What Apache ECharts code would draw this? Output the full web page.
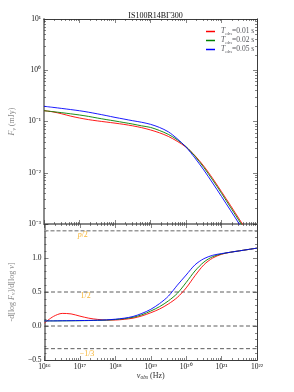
<!DOCTYPE html>
<html><head><meta charset="utf-8">
<script src="https://cdn.jsdelivr.net/npm/echarts@6/dist/echarts.min.js"></script>
<style>html,body{margin:0;padding:0;background:#fff}#c{width:294px;height:392px}</style>
</head><body><div id="c"></div>
<script>
// log10 of observed frequency (Hz)
const logNu = [16,16.25,16.5,16.75,17,17.25,17.5,17.75,18,18.25,18.5,18.75,19,19.25,19.5,19.75,20,20.25,20.5,20.75,21,21.25,21.5,21.75,22];
// log10 of flux density F_nu (mJy)
const logF_001 = [-0.789,-0.812,-0.85,-0.895,-0.932,-0.963,-0.988,-1.01,-1.032,-1.056,-1.085,-1.12,-1.165,-1.22,-1.29,-1.385,-1.50,-1.665,-1.87,-2.11,-2.37,-2.635,-2.905,-3.18,-3.46];
const logF_002 = [-0.789,-0.808,-0.828,-0.85,-0.873,-0.9,-0.932,-0.962,-0.99,-1.02,-1.05,-1.085,-1.115,-1.175,-1.25,-1.355,-1.49,-1.675,-1.895,-2.14,-2.40,-2.67,-2.94,-3.22,-3.505];
const logF_005 = [-0.703,-0.724,-0.745,-0.767,-0.79,-0.818,-0.85,-0.884,-0.92,-0.952,-0.985,-1.015,-1.055,-1.115,-1.2,-1.335,-1.50,-1.71,-1.945,-2.20,-2.463,-2.73,-3.0,-3.28,-3.565];
// spectral slope -dlogF/dlognu
const slope_001 = [0.045,0.14,0.185,0.178,0.145,0.115,0.097,0.087,0.088,0.098,0.115,0.148,0.195,0.25,0.325,0.42,0.56,0.74,0.9,1.0,1.055,1.085,1.105,1.125,1.145];
const slope_002 = [0.075,0.075,0.076,0.077,0.078,0.08,0.083,0.087,0.095,0.108,0.128,0.165,0.22,0.285,0.37,0.48,0.64,0.81,0.94,1.02,1.06,1.085,1.105,1.125,1.145];
const slope_005 = [0.075,0.075,0.077,0.078,0.08,0.082,0.085,0.09,0.1,0.115,0.14,0.185,0.245,0.33,0.44,0.6,0.75,0.9,0.99,1.04,1.065,1.085,1.105,1.125,1.145];
const durations = ['0.01','0.02','0.05'];
const colors = ['#ff0000','#008000','#0000ff'];
const refLevels = [1.4, 0.5, 0, -1/3];
const refLabels = [[17.08,1.335,'p/2'],[17.16,0.44,'1/2'],[17.2,-0.405,'\u22121/3']];
const xMajor = [16,17,18,19,20,21,22];
const yTopMajor = [-3,-2,-1,0,1];
const yBotMajor = [-0.5,0,0.5,1.0,1.5];

const FONT = 'Liberation Serif';
const supMap = {'-':'\u207b','0':'\u2070','1':'\u00b9','2':'\u00b2','3':'\u00b3','4':'\u2074','5':'\u2075','6':'\u2076','7':'\u2077','8':'\u2078','9':'\u2079'};
const sup = s => String(s).replace(/[-0-9]/g, c => supMap[c]);
const minorLog = (a,b) => { const r=[]; for(let n=a;n<b;n++) for(let k=2;k<10;k++) r.push(n+Math.log10(k)); return r; };
const minorLin = []; for (let i=-4;i<=14;i++){ if (i%5!==0) minorLin.push(i/10); }

const lab = {fontFamily:FONT, fontSize:7.5, color:'#111'};
function axis(kind, grid, pos, min, max, ticks, len, labelFmt, lineColor, lineWidth) {
  const a = {type:'value', gridIndex:grid, position:pos, min:min, max:max, offset:0,
    axisLine:{show:true, onZero:false, lineStyle:{color:lineColor||'#333', width:lineWidth||0.8}},
    axisTick:{show:true, inside:true, length:len, customValues:ticks, lineStyle:{color:'#333', width:0.6}},
    axisLabel:{show:!!labelFmt, customValues:ticks, formatter:labelFmt||undefined, margin:3, ...lab},
    splitLine:{show:false}};
  return a;
}
const richName = {i:{fontFamily:FONT,fontStyle:'italic',fontSize:8,lineHeight:10,verticalAlign:'middle'},sub:{fontFamily:FONT,fontStyle:'italic',fontSize:5.5,lineHeight:10,verticalAlign:'bottom'},n:{fontFamily:FONT,fontSize:8,lineHeight:10,verticalAlign:'middle'}};
const xAxes = [], yAxes = [];
// grid 0 x axes
xAxes.push(axis('x',0,'bottom',16,22,xMajor,4,null,'#888',1.6));   // 0
xAxes.push(axis('x',0,'bottom',16,22,minorLog(16,22),2,null,'#888',1.6));
xAxes.push(axis('x',0,'top',16,22,xMajor,4,null));
xAxes.push(axis('x',0,'top',16,22,minorLog(16,22),2,null));
// grid 1 x axes
xAxes.push(axis('x',1,'bottom',16,22,xMajor,4,v=>'10'+sup(v)));     // 4
xAxes.push(axis('x',1,'bottom',16,22,minorLog(16,22),2,null));
xAxes.push(axis('x',1,'top',16,22,xMajor,4,null,'#888',1.6));
xAxes.push(axis('x',1,'top',16,22,minorLog(16,22),2,null,'#888',1.6));
xAxes[4].name = '{i|\u03bd}{sub|obs}{n| (Hz)}';
xAxes[4].nameLocation = 'middle'; xAxes[4].nameGap = 11;
xAxes[4].nameTextStyle = {rich:richName};
// grid 0 y axes
yAxes.push(axis('y',0,'left',-3,1,yTopMajor,4,v=>'10'+sup(v),'#888',1.6));  // 0
yAxes.push(axis('y',0,'left',-3,1,minorLog(-3,1),2,null,'#888',1.6));
yAxes.push(axis('y',0,'right',-3,1,yTopMajor,4,null));
yAxes.push(axis('y',0,'right',-3,1,minorLog(-3,1),2,null));
yAxes[0].name = '{i|F}{sub|\u03bd}{n| (mJy)}';
yAxes[0].nameLocation = 'middle'; yAxes[0].nameGap = 14; yAxes[0].nameRotate = 90;
yAxes[0].nameTextStyle = {rich:richName};
// grid 1 y axes
const botFmt = v => (Math.abs(v-1.5)<1e-6) ? '' : (v<0 ? '\u2212'+Math.abs(v).toFixed(1) : v.toFixed(1));
yAxes.push(axis('y',1,'left',-0.5,1.5,yBotMajor,4,botFmt,'#888',1.6));  // 4
yAxes.push(axis('y',1,'left',-0.5,1.5,minorLin,2,null,'#888',1.6));
yAxes.push(axis('y',1,'right',-0.5,1.5,yBotMajor,4,null));
yAxes.push(axis('y',1,'right',-0.5,1.5,minorLin,2,null));
yAxes[4].name = '{n|-d[log }{i|F}{sub|\u03bd}{n|]/d[log }{i|\u03bd}{n|]}';
yAxes[4].nameLocation = 'middle'; yAxes[4].nameGap = 14; yAxes[4].nameRotate = 90;
yAxes[4].nameTextStyle = {rich:richName};

const fluxes = [logF_001, logF_002, logF_005];
const slopes = [slope_001, slope_002, slope_005];
const series = [];
durations.forEach((d,k) => {
  series.push({name:'T=' + d + ' s', type:'line', xAxisIndex:0, yAxisIndex:0, showSymbol:false, symbol:'none', clip:true, smooth:0.3,
    lineStyle:{color:colors[k], width:0.9}, itemStyle:{color:colors[k]},
    data: logNu.map((x,i)=>[x, fluxes[k][i]]), z:3});
});
durations.forEach((d,k) => {
  series.push({name:'slope ' + d, type:'line', xAxisIndex:4, yAxisIndex:4, showSymbol:false, symbol:'none', clip:true, smooth:0.3,
    lineStyle:{color:colors[k], width:0.9}, itemStyle:{color:colors[k]},
    data: logNu.map((x,i)=>[x, slopes[k][i]]), z:3});
});
refLevels.forEach((v,k) => {
  series.push({type:'line', xAxisIndex:4, yAxisIndex:4, showSymbol:false, symbol:'none', silent:true,
    lineStyle: k===0 ? {color:'#999', width:1.4, type:[4,2]} : {color:'#333', width:0.8, type:[4,2.5]},
    data:[[16,v],[22,v]], z:2});
});
series.push({type:'scatter', xAxisIndex:4, yAxisIndex:4, symbolSize:0, silent:true,
  data: refLabels,
  label:{show:true, position:'inside', formatter:p=> p.data[2]==='p/2' ? '{i|p}{n|/2}' : '{n|'+p.data[2]+'}',
    rich:{i:{fontFamily:FONT,fontStyle:'italic',fontSize:8,color:'#f5a300'}, n:{fontFamily:FONT,fontSize:8,color:'#f5a300'}}}});

const chart = echarts.init(document.getElementById('c'), null, {renderer:'canvas'});
chart.setOption({
  animation:false,
  backgroundColor:'#fff',
  title:{text:'IS100R14B\u0393300', left:150.5, top:7, textAlign:'center', textStyle:{fontFamily:FONT, fontSize:8, fontWeight:'normal', color:'#111'}},
  grid:[{left:44, top:19, width:213, height:205}, {left:44, top:224, width:213, height:136}],
  xAxis:xAxes, yAxis:yAxes,
  legend:{data: durations.map(d=>'T=' + d + ' s'), orient:'vertical', left:201, top:22.5, itemWidth:9, itemHeight:1.5, itemGap:0, icon:'rect',
    formatter: name => '{i|T}{sub|obs}{n|=' + name.split('=')[1] + '}',
    textStyle:{padding:[0,0,0,1], rich:{i:{fontFamily:FONT,fontStyle:'italic',fontSize:7.5,lineHeight:10,verticalAlign:'middle'},sub:{fontFamily:FONT,fontStyle:'italic',fontSize:5,lineHeight:10,verticalAlign:'bottom'},n:{fontFamily:FONT,fontSize:7.5,lineHeight:10,verticalAlign:'middle'}}}},
  series:series
});
</script></body></html>
